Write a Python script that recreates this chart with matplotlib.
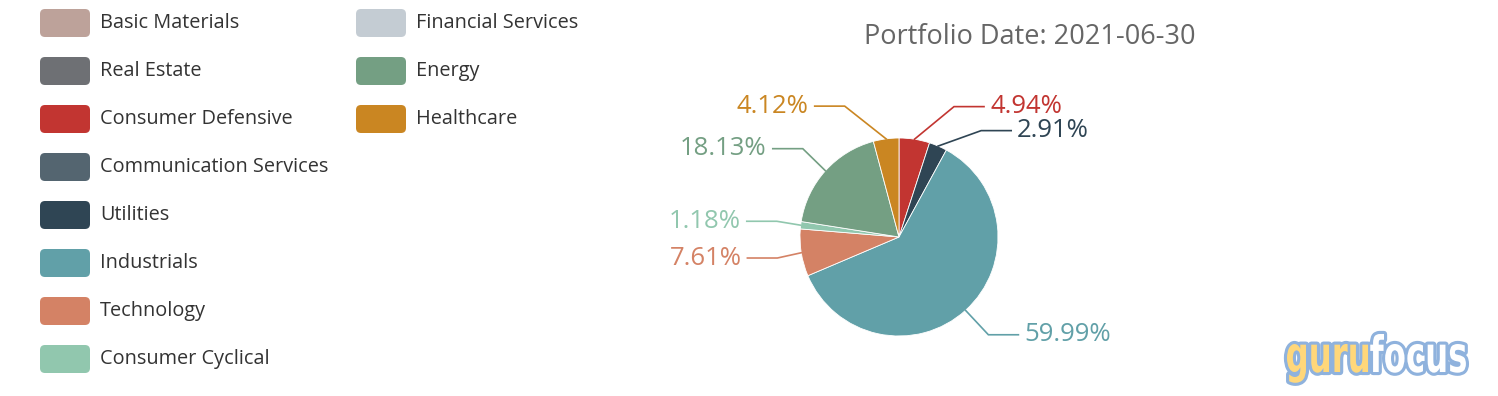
import numpy as np
import matplotlib
matplotlib.use("Agg")
import matplotlib.pyplot as plt
from matplotlib.patches import FancyBboxPatch, PathPatch
from matplotlib.textpath import TextPath
from matplotlib.font_manager import FontProperties
from matplotlib.transforms import Affine2D

plt.rcParams['font.family'] = ['Open Sans', 'DejaVu Sans']

# legend entries (column-major, as in the reference)
legend_names = ['Basic Materials', 'Real Estate', 'Consumer Defensive',
                'Communication Services', 'Utilities', 'Industrials',
                'Technology', 'Consumer Cyclical',
                'Financial Services', 'Energy', 'Healthcare']
legend_colors = ['#bda29a', '#6e7074', '#c23531', '#546570', '#2f4554',
                 '#61a0a8', '#d48265', '#91c7ae', '#c4ccd3', '#749f83',
                 '#ca8622']

# pie slices, clockwise from 12 o'clock
sectors = ['Consumer Defensive', 'Utilities', 'Industrials', 'Technology',
           'Consumer Cyclical', 'Energy', 'Healthcare']
weights = [4.94, 2.91, 59.99, 7.61, 1.18, 18.13, 4.12]

title = 'Portfolio Date: 2021-06-30'

color_of = dict(zip(legend_names, legend_colors))
pie_colors = [color_of[s] for s in sectors]

fig = plt.figure(figsize=(14.98, 3.96), dpi=100)
ax = fig.add_axes([0, 0, 1, 1])

# work in pixel units, y pointing down
cx, cy, r = 899, 237, 99
ax.pie(weights, colors=pie_colors, center=(cx, cy), radius=r,
       startangle=-90, counterclock=True,
       wedgeprops=dict(edgecolor='white', linewidth=0.6))
ax.set_xlim(0, 1498)
ax.set_ylim(396, 0)
ax.set_aspect('equal')
ax.axis('off')

# label layout: radial start, push overlapping labels down, then place on circle
frac = np.array(weights) / sum(weights)
mids = (np.cumsum(frac) - frac / 2) * 2 * np.pi
r_elbow = r + 33
r_text = 159
line_h = 24
labels = []
for i, th in enumerate(mids):
    side = 1 if np.sin(th) >= 0 else -1
    labels.append(dict(i=i, th=th, side=side, y=cy - r_elbow * np.cos(th)))

for side in (1, -1):
    group = sorted([l for l in labels if l['side'] == side], key=lambda l: l['y'])
    last = -1e9
    for l in group:
        if l['y'] < last + line_h:
            l['y'] = last + line_h
        last = l['y']

for l in labels:
    th, side, y = l['th'], l['side'], l['y']
    dy = y - cy
    dx = np.sqrt(max(r_text ** 2 - dy ** 2, 0))
    tx = cx + side * dx
    x_end = tx - side * 6
    x_elbow = x_end - side * 30
    x0 = cx + r * np.sin(th)
    y0 = cy - r * np.cos(th)
    c = pie_colors[l['i']]
    ax.plot([x0, x_elbow, x_end], [y0, y, y], color=c, lw=1.2,
            solid_joinstyle='miter')
    ax.text(tx, y, f"{weights[l['i']]:.2f}%", color=c, fontsize=18.5,
            ha='left' if side > 0 else 'right', va='center')

ax.text(1030, 37, title, fontsize=19.5, color='#666666', ha='center', va='center')

# legend
for k, (name, col) in enumerate(zip(legend_names, legend_colors)):
    colx = 40 + 316 * (k // 8)
    rowy = 23 + 48 * (k % 8)
    ax.add_patch(FancyBboxPatch((colx, rowy - 14), 50, 28,
                                boxstyle='round,pad=0,rounding_size=5',
                                fc=col, ec='none'))
    ax.text(colx + 60, rowy, name, fontsize=14.3, color='#333333',
            ha='left', va='center')

# watermark, squeezed horizontally into its box
fp = FontProperties(family='DejaVu Sans', weight='bold')
full = TextPath((0, 0), 'gurufocus', size=1, prop=fp)
head = TextPath((0, 0), 'guru', size=1, prop=fp)
tail = TextPath((0, 0), 'focus', size=1, prop=fp)
ext = full.get_extents()
sx = 180 / ext.width
sy = 50
wm_left, wm_base = 1287, 372
for tp, fill, offset in [(head, '#ffd77a', 0), (tail, 'white', head.get_extents().x1 + 0.05)]:
    tr = Affine2D().translate(offset - ext.x0, 0).scale(sx, -sy).translate(wm_left, wm_base)
    p = tr.transform_path(tp)
    ax.add_patch(PathPatch(p, fc='none', ec='#8fb2dd', lw=4.5, joinstyle='round', zorder=5))
    ax.add_patch(PathPatch(p, fc=fill, ec='none', zorder=6))

fig.savefig('out.png', dpi=100)
